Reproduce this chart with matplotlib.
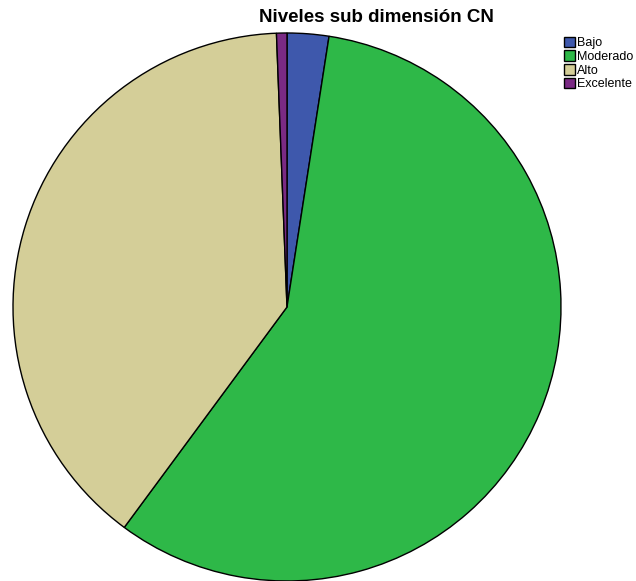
import matplotlib
matplotlib.use("Agg")
import matplotlib.pyplot as plt

categories = ["Bajo", "Moderado", "Alto", "Excelente"]
counts = [4, 94, 64, 1]
colors = ["#3E58AC", "#2EB848", "#D4CE98", "#7A2A84"]
title = "Niveles sub dimensión CN"

fig = plt.figure(figsize=(6.36, 5.81), dpi=100)
ax = fig.add_axes([13/636, 0/581, 548/636, 548/581])
wedges, _ = ax.pie(counts, colors=colors, startangle=90, counterclock=False,
                   wedgeprops=dict(edgecolor="black", linewidth=1.0), radius=1)
ax.set_xlim(-1, 1)
ax.set_ylim(-1, 1)
ax.set_aspect("equal")
ax.axis("off")

fig.text(376/636, 1 - 17/581, title, ha="center", va="center",
         fontsize=13.5, fontweight="bold", family="Liberation Sans")

leg = fig.legend(wedges, categories, loc="upper left",
                 bbox_to_anchor=(561/636, 1 - 34/581), frameon=False,
                 prop=dict(family="Liberation Sans", size=9),
                 handlelength=0.95, handleheight=0.95, handletextpad=0.15,
                 labelspacing=0.08, borderpad=0.2, borderaxespad=0)

fig.savefig("out.png", dpi=100)
